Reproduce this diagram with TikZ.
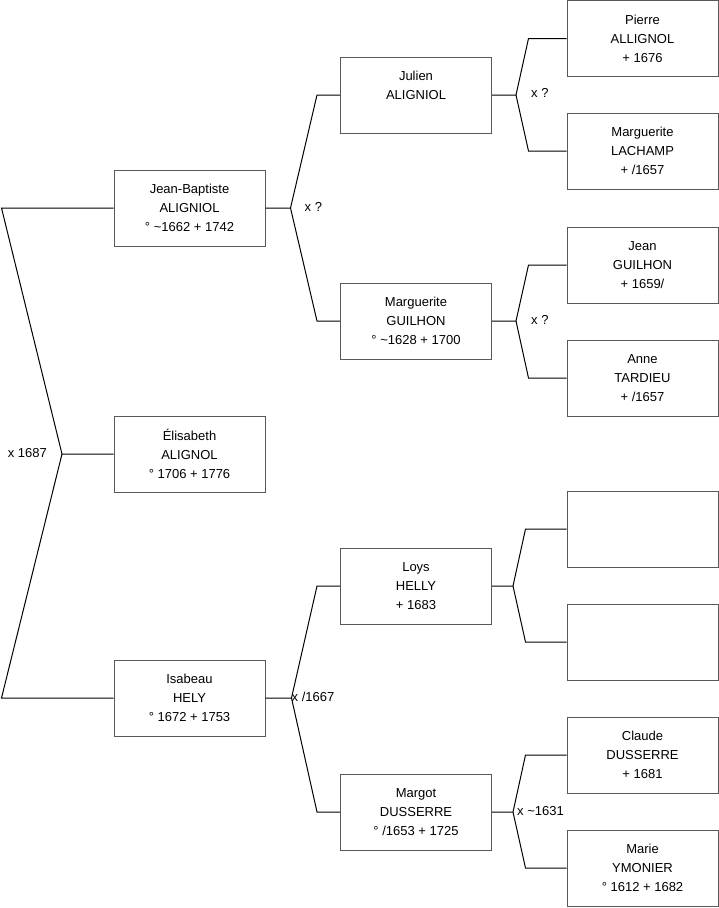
\documentclass[tikz,border=0pt]{standalone}
\usepackage{fontspec}
\setmainfont{Liberation Sans}
\usetikzlibrary{calc}
\tikzset{
  person/.style={draw=black!65,line width=1pt,minimum width=151pt,minimum height=76pt,
    inner sep=0pt,align=center,text=black,font=\fontsize{13}{19}\selectfont},
  link/.style={black,line width=1pt},
  lbl/.style={inner sep=0pt,text=black,font=\fontsize{13}{15}\selectfont}
}

\begin{document}
\begin{tikzpicture}[x=1pt,y=-1pt]
  \useasboundingbox (0,0) rectangle (719,908);
  \def\ga{189.5}\def\gb{416}\def\gc{642.5}
  % child
  \node[person] (eli) at (\ga,454) {Élisabeth\\ALIGNOL\\° 1706 + 1776};
  % parents
  \node[person] (jb)  at (\ga,208) {Jean-Baptiste\\ALIGNIOL\\° \textasciitilde1662 + 1742};
  \node[person] (isa) at (\ga,698) {Isabeau\\HELY\\° 1672 + 1753};
  % grandparents
  \node[person] (jul) at (\gb,95)  {Julien\\ALIGNIOL\\\mbox{}};
  \node[person] (gui) at (\gb,321) {Marguerite\\GUILHON\\° \textasciitilde1628 + 1700};
  \node[person] (loy) at (\gb,586) {Loys\\HELLY\\+ 1683};
  \node[person] (mar) at (\gb,812) {Margot\\DUSSERRE\\° /1653 + 1725};
  % great-grandparents
  \node[person] (pie) at (\gc,38.5) {Pierre\\ALLIGNOL\\+ 1676};
  \node[person] (lac) at (\gc,151) {Marguerite\\LACHAMP\\+ /1657};
  \node[person] (jea) at (\gc,265) {Jean\\GUILHON\\+ 1659/};
  \node[person] (ann) at (\gc,378) {Anne\\TARDIEU\\+ /1657};
  \node[person] (ea)  at (\gc,529) {};
  \node[person] (eb)  at (\gc,642) {};
  \node[person] (cla) at (\gc,755) {Claude\\DUSSERRE\\+ 1681};
  \node[person] (mye) at (\gc,868) {Marie\\YMONIER\\° 1612 + 1682};

  % fork to the parents
  \coordinate (m0) at (62,454);
  \draw[link] (jb.west) -- ++(-112,0) -- (m0) -- (eli.west);
  \draw[link] (isa.west) -- ++(-112,0) -- (m0);
  \node[lbl,anchor=east] (x0) at (47,453) {x 1687};

  % forks further back
  \foreach \p/\a/\b/\f/\e in {jb/jul/gui/25/23, isa/loy/mar/26/23, jul/pie/lac/24/38,
      gui/jea/ann/24/38, loy/ea/eb/21/41, mar/cla/mye/21/41}{
    \coordinate (f\p) at ($(\p.east)+(\f,0)$);
    \draw[link] (\p.east) -- (f\p) -- ($(\a.west)+(-\e,0)$) -- (\a.west);
    \draw[link] (f\p) -- ($(\b.west)+(-\e,0)$) -- (\b.west);
  }
  \node[lbl,anchor=west] (xjb)  at ($(fjb)+(14,-1)$)  {x ?};
  \node[lbl,anchor=west] (xjul) at ($(fjul)+(15,-2)$) {x ?};
  \node[lbl,anchor=west] (xgui) at ($(fgui)+(15,-1)$) {x ?};
  \node[lbl,anchor=west] (xisa) at ($(fisa)+(0,-1)$)  {x /1667};
  \node[lbl,anchor=west] (xmar) at ($(fmar)+(4,-1)$)  {x \textasciitilde1631};
\end{tikzpicture}
\end{document}
